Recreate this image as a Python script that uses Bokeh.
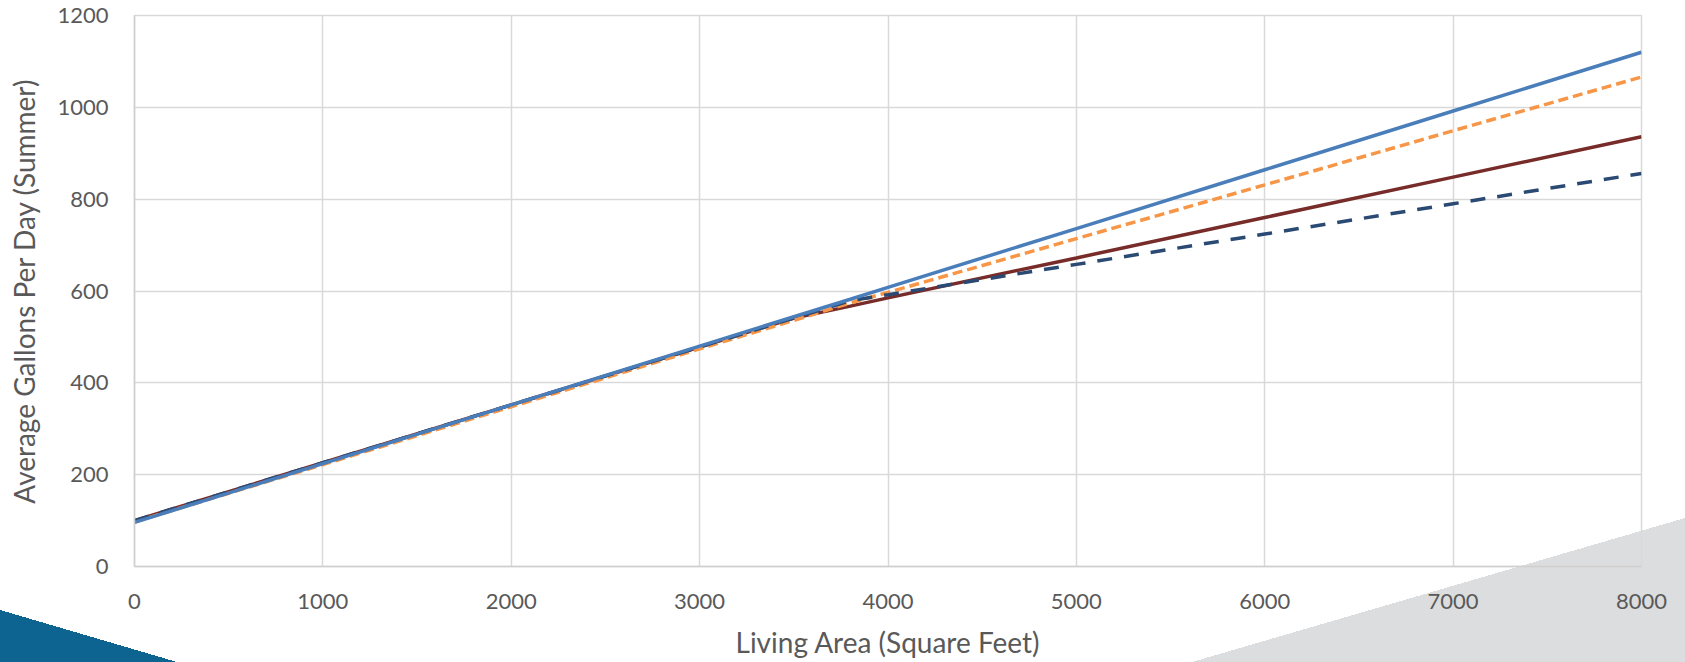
from bokeh.plotting import figure
from bokeh.models import FixedTicker, Range1d
from bokeh.embed import file_html
from bokeh.resources import INLINE

# ---- data ----
living_area = [0, 1000, 2000, 3000, 3500, 3800, 4000, 5000, 6000, 7000, 8000]
series_blue = [96, 224, 352, 480, 544, 582, 608, 736, 864, 992, 1120]
series_orange = [97, 222, 348, 474, 536, 574, 597, 714, 831, 949, 1066]
series_red = [100, 226, 352, 478, 541, 567, 585, 672, 760, 848, 936]
series_navy = [100, 226, 352, 478, 541, 579, 592, 658, 724, 790, 856]
x_ticks = [0, 1000, 2000, 3000, 4000, 5000, 6000, 7000, 8000]
y_ticks = [0, 200, 400, 600, 800, 1000, 1200]

FONT = "Lato"
TEXT = "#595959"
GRID = "#D9D9D9"
SHAPE_GRAY = "#DCDDDF"
SHAPE_BLUE = "#0E6490"

p = figure(width=1685, height=662, output_backend="svg", toolbar_location=None,
           x_range=Range1d(0, 8000), y_range=Range1d(0, 1200),
           min_border_left=134, min_border_right=44, min_border_top=15, min_border_bottom=96)
# transparent canvas so the decorative corner shapes (page background) show behind everything
p.background_fill_color = None
p.border_fill_color = None
p.outline_line_color = GRID
p.outline_line_width = 1.5
p.styles = {
    "background-color": "white",
    "background-image": (
        f"linear-gradient(to top left, {SHAPE_GRAY} 50%, transparent 50%), "
        f"linear-gradient(to top right, {SHAPE_BLUE} 50%, transparent 50%)"
    ),
    "background-size": "493px 144px, 177px 52px",
    "background-position": "right bottom, left bottom",
    "background-repeat": "no-repeat, no-repeat",
}

p.line(living_area, series_red, line_color="#772C2A", line_width=3.5)
p.line(living_area, series_orange, line_color="#F79646", line_width=3.5, line_dash="10 5")
p.line(living_area, series_navy, line_color="#2A4A73", line_width=3.5, line_dash="15 12")
p.line(living_area, series_blue, line_color="#4A7EBB", line_width=3.5)

for ax in (p.xaxis[0], p.yaxis[0]):
    ax.major_tick_line_color = None
    ax.minor_tick_line_color = None
    ax.axis_line_color = "#CFCFCF"
    ax.axis_line_width = 1.5
    ax.major_label_text_font = FONT
    ax.major_label_text_font_size = "22px"
    ax.major_label_text_color = TEXT
    ax.axis_label_text_font = FONT
    ax.axis_label_text_font_size = "28px"
    ax.axis_label_text_font_style = "normal"
    ax.axis_label_text_color = TEXT

p.xaxis.ticker = FixedTicker(ticks=x_ticks)
p.yaxis.ticker = FixedTicker(ticks=y_ticks)
p.xaxis.axis_label = "Living Area (Square Feet)"
p.yaxis.axis_label = "Average Gallons Per Day (Summer)"
p.xaxis.major_label_standoff = 21
p.yaxis.major_label_standoff = 20
p.xaxis.axis_label_standoff = 13
p.yaxis.axis_label_standoff = 13

p.xgrid.ticker = FixedTicker(ticks=x_ticks)
p.ygrid.ticker = FixedTicker(ticks=y_ticks)
p.grid.grid_line_color = GRID
p.grid.grid_line_width = 1.5

open("out.html", "w").write(file_html(p, INLINE))
